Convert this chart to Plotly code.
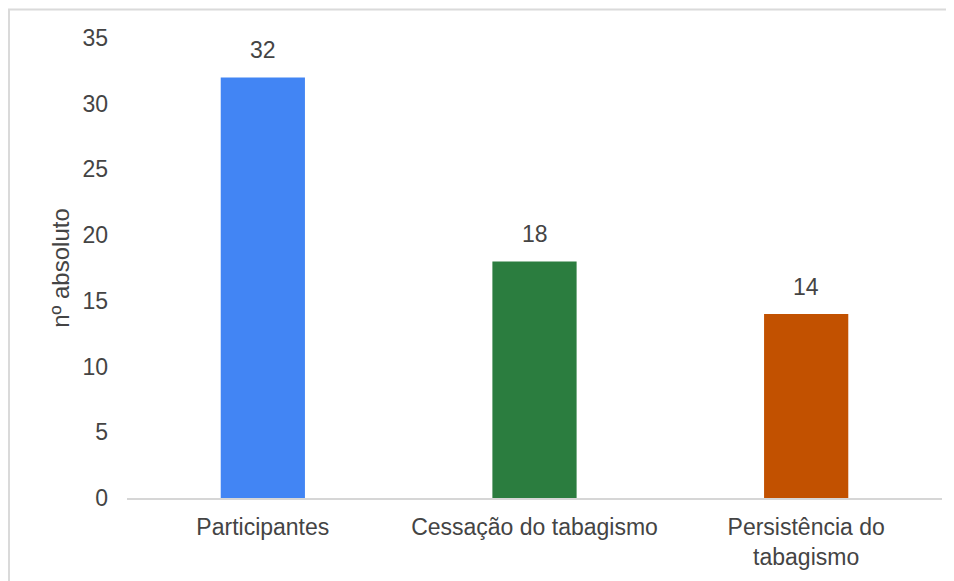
import plotly.graph_objects as go

# Data
categories = ['Participantes', 'Cessação do tabagismo', 'Persistência do<br>tabagismo']
values = [32, 18, 14]
bar_colors = ['#4285f4', '#2b7d3f', '#c25100']
y_ticks = [0, 5, 10, 15, 20, 25, 30, 35]

font_family = 'Liberation Sans, Arial, sans-serif'
text_color = '#444444'

fig = go.Figure()

fig.add_trace(go.Bar(
    x=categories,
    y=values,
    marker_color=bar_colors,
    marker_line_width=0,
    width=0.31,
    hoverinfo='x+y'
))

# Value labels above each bar
for cat, val in zip(categories, values):
    fig.add_annotation(
        x=cat, y=val, text=str(val),
        showarrow=False, yanchor='bottom', yshift=12,
        font=dict(family=font_family, size=23, color=text_color)
    )

# Light grey frame (only top and left edges fall inside the picture)
fig.add_shape(
    type='rect', xref='paper', yref='paper',
    x0=-0.1448, x1=1.2, y0=-0.3, y1=1.062,
    line=dict(color='#dadada', width=2),
    fillcolor='rgba(0,0,0,0)', layer='below'
)

# page body adds 8px offset, margins compensate
fig.update_layout(
    width=954,
    height=581,
    margin=dict(l=119, r=20, t=30, b=91),
    plot_bgcolor='white',
    paper_bgcolor='white',
    showlegend=False,
    font=dict(family=font_family, size=23, color=text_color),
    xaxis=dict(
        showline=True,
        linecolor='#d6d6d6',
        linewidth=2,
        showgrid=False,
        ticks='',
        ticklabelstandoff=7,
        tickfont=dict(size=23),
        fixedrange=True
    ),
    yaxis=dict(
        range=[0, 35],
        tickvals=y_ticks,
        showgrid=False,
        zeroline=False,
        showline=False,
        ticks='',
        ticklabelstandoff=18,
        tickfont=dict(size=23),
        title=dict(text='nº absoluto', font=dict(size=24), standoff=6),
        fixedrange=True
    )
)

fig.write_html('out.html')
